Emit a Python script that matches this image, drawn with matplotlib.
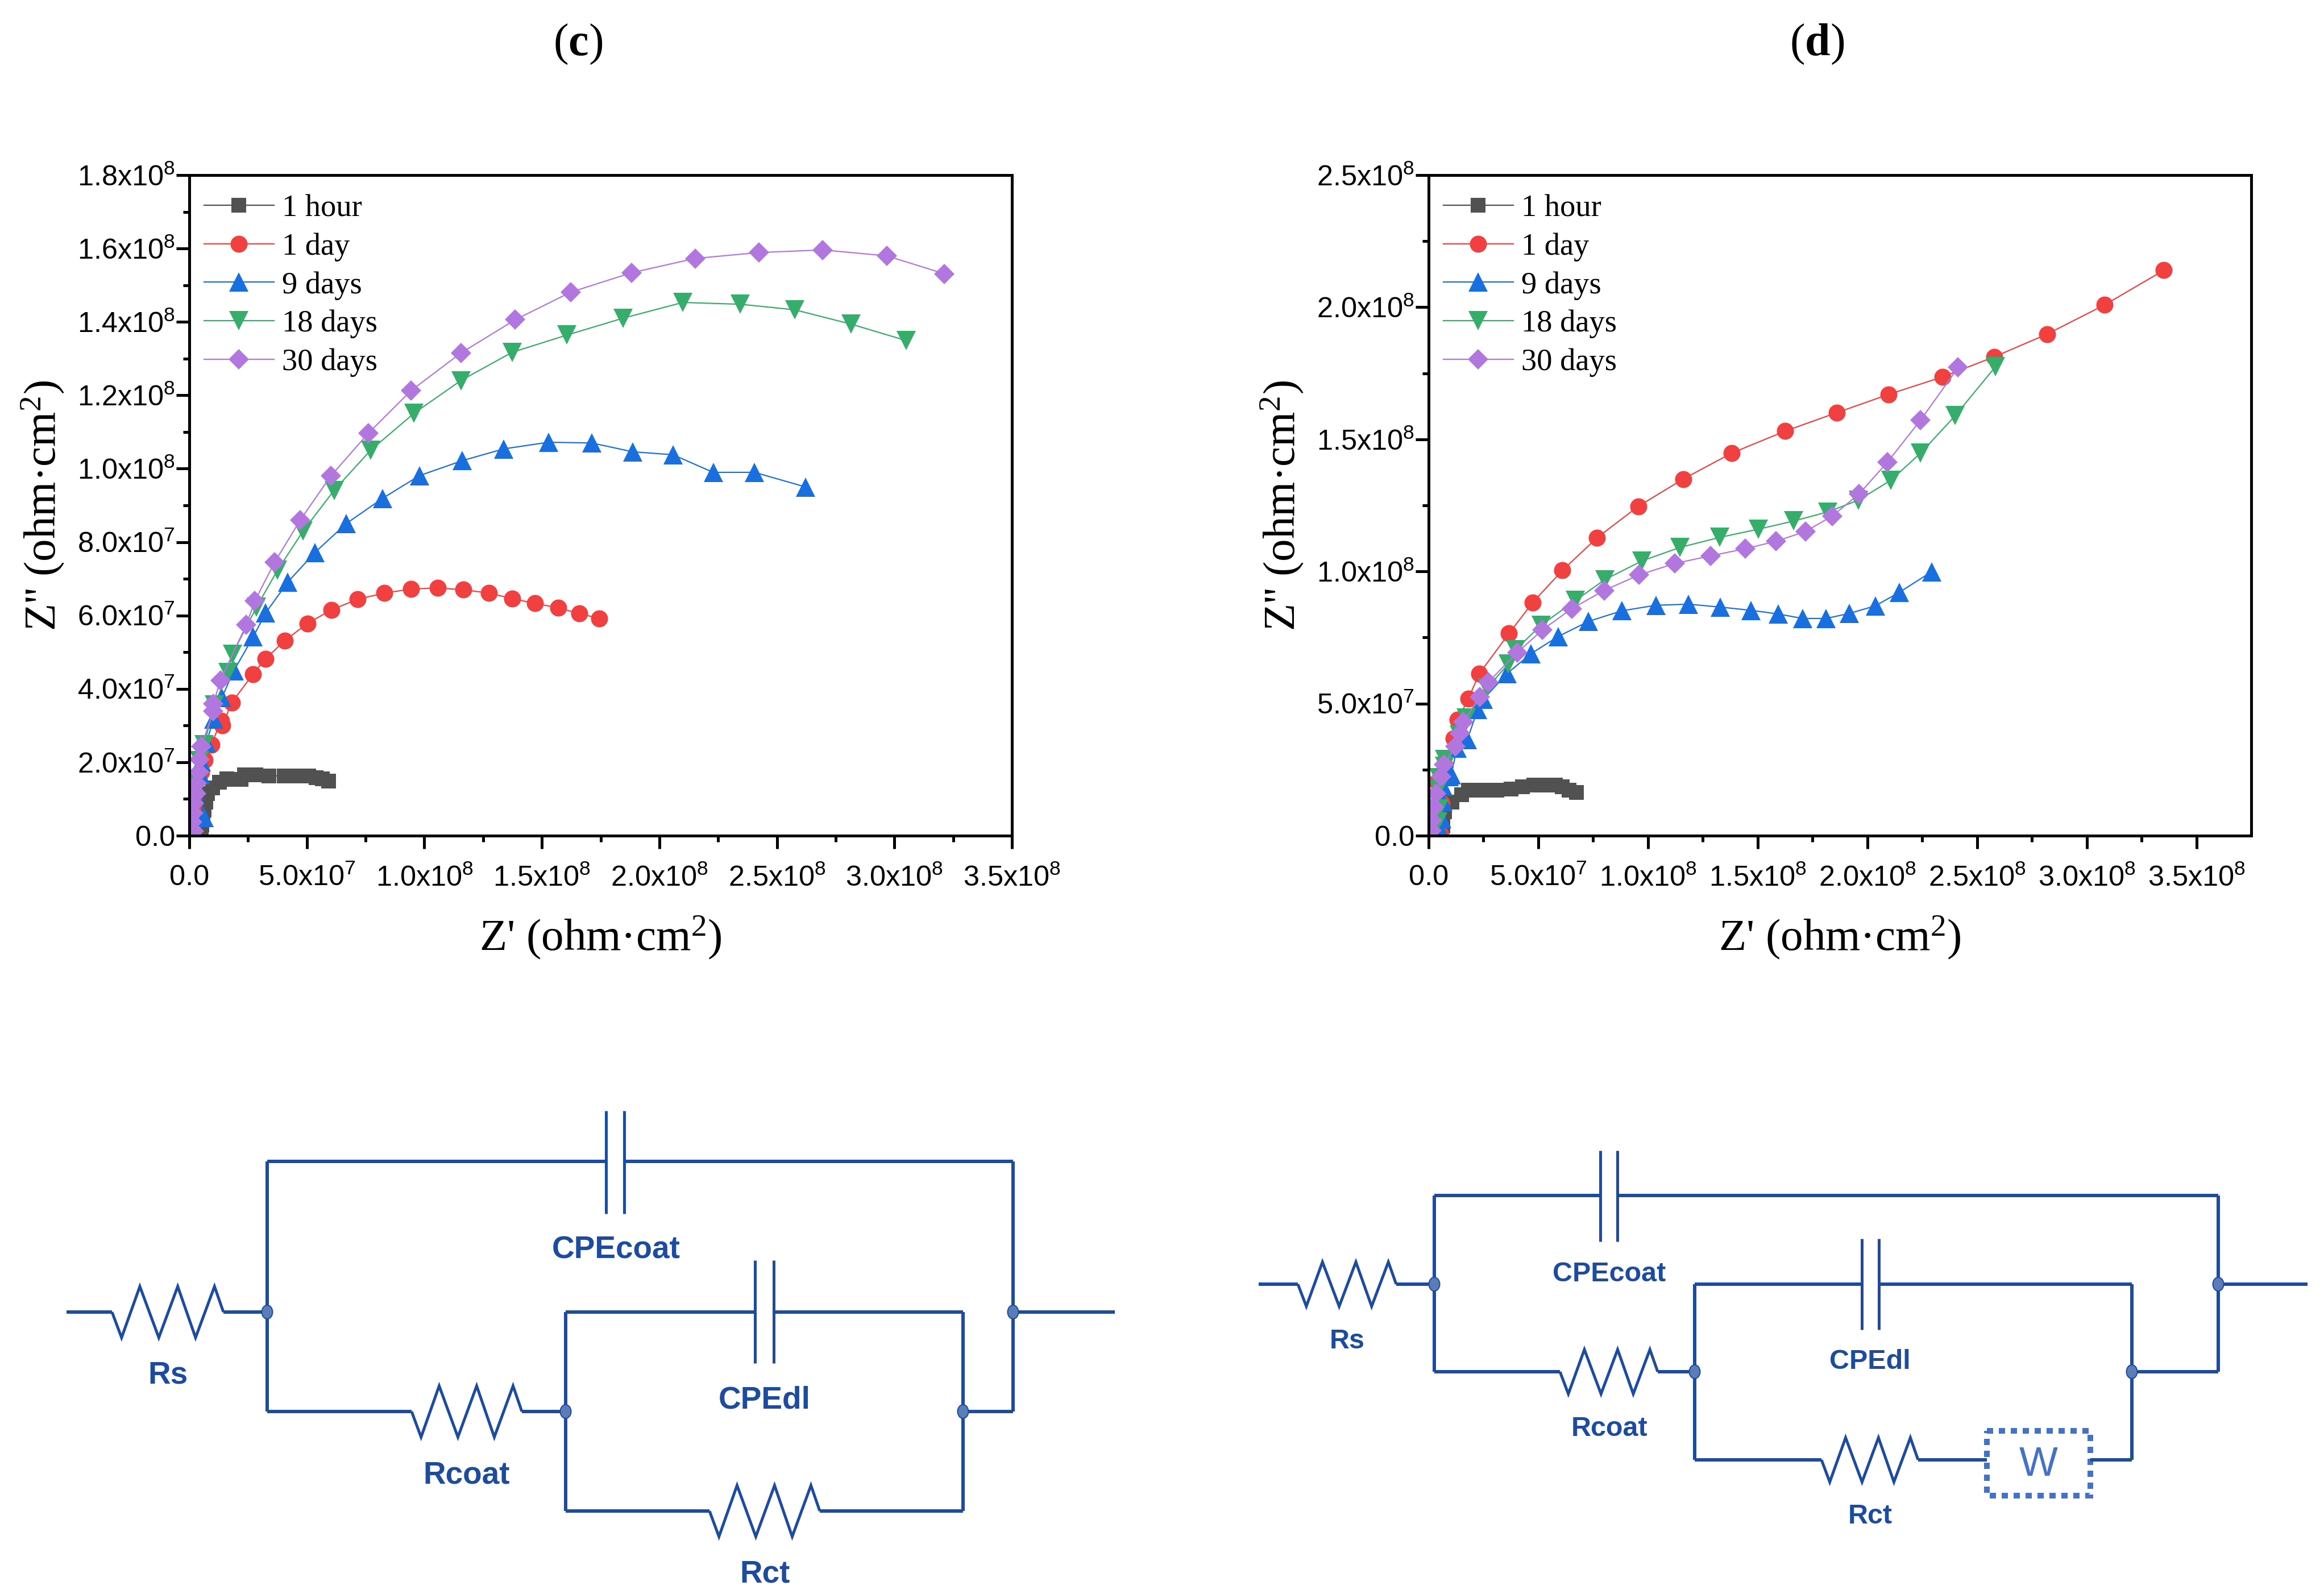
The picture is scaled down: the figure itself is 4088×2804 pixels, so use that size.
import numpy as np
import matplotlib
import matplotlib.pyplot as plt
from matplotlib.patches import Ellipse, Rectangle

matplotlib.use('Agg')

plt.rcParams['mathtext.fontset'] = 'custom'
plt.rcParams['mathtext.bf'] = 'Liberation Serif:bold'
plt.rcParams['mathtext.default'] = 'regular'

W, H = 4088, 2804
DPI = 400
PX = 72 / DPI  # one picture pixel in points

labels = ['1 hour', '1 day', '9 days', '18 days', '30 days']
colors = ['#515151', '#F14040', '#1A6FDF', '#37AD6B', '#B177DE']
markers = ['s', 'o', '^', 'v', 'D']
marker_px = [27, 30, 34, 34, 26]

x_ticks = [0, 5e7, 1e8, 1.5e8, 2e8, 2.5e8, 3e8, 3.5e8]
x_ticklabels = ['0.0', '5.0x10$^{7}$', '1.0x10$^{8}$', '1.5x10$^{8}$', '2.0x10$^{8}$',
                '2.5x10$^{8}$', '3.0x10$^{8}$', '3.5x10$^{8}$']
c_y_ticks = [0, 2e7, 4e7, 6e7, 8e7, 1e8, 1.2e8, 1.4e8, 1.6e8, 1.8e8]
c_y_ticklabels = ['0.0', '2.0x10$^{7}$', '4.0x10$^{7}$', '6.0x10$^{7}$', '8.0x10$^{7}$',
                  '1.0x10$^{8}$', '1.2x10$^{8}$', '1.4x10$^{8}$', '1.6x10$^{8}$', '1.8x10$^{8}$']
d_y_ticks = [0, 5e7, 1e8, 1.5e8, 2e8, 2.5e8]
d_y_ticklabels = ['0.0', '5.0x10$^{7}$', '1.0x10$^{8}$', '1.5x10$^{8}$', '2.0x10$^{8}$', '2.5x10$^{8}$']

# panel c, values in units of 1e7 ohm cm2
c_hour_x = [0.50, 0.54, 0.58, 0.62, 0.71, 0.78, 0.98, 1.29, 1.60, 1.90, 2.20, 2.34, 2.82, 3.39, 4.03, 4.68, 5.08, 5.40, 5.65, 5.93]
c_hour_y = [0.10, 0.30, 0.50, 0.70, 0.91, 1.14, 1.30, 1.45, 1.55, 1.54, 1.53, 1.66, 1.65, 1.63, 1.63, 1.63, 1.63, 1.58, 1.55, 1.49]
c_day_x = [0.15, 0.12, 0.15, 0.18, 0.20, 0.24, 0.52, 0.66, 0.94, 1.35, 1.41, 1.81, 2.71, 3.24, 4.07, 5.02, 6.04, 7.15, 8.29, 9.44, 10.56, 11.67, 12.75, 13.73, 14.70, 15.69, 16.60, 17.45]
c_day_y = [0.06, 0.25, 0.50, 0.80, 1.10, 1.45, 1.73, 2.06, 2.48, 3.13, 3.00, 3.63, 4.40, 4.82, 5.32, 5.78, 6.15, 6.44, 6.61, 6.72, 6.75, 6.70, 6.61, 6.46, 6.33, 6.21, 6.05, 5.92]
c_9d_x = [0.10, 0.62, 0.48, 0.52, 0.73, 1.03, 1.39, 1.90, 2.72, 3.25, 4.19, 5.35, 6.67, 8.22, 9.79, 11.62, 13.38, 15.28, 17.13, 18.87, 20.58, 22.29, 24.05, 26.23]
c_9d_y = [0.10, 0.50, 1.66, 2.02, 2.53, 3.18, 3.77, 4.50, 5.42, 6.07, 6.91, 7.72, 8.50, 9.19, 9.81, 10.22, 10.54, 10.72, 10.70, 10.46, 10.38, 9.90, 9.90, 9.50]
c_18d_x = [0.08, 0.12, 0.16, 0.20, 0.43, 0.63, 1.07, 1.64, 1.83, 2.86, 3.75, 4.84, 6.16, 7.71, 9.56, 11.55, 13.73, 16.06, 18.45, 21.00, 23.45, 25.76, 28.15, 30.51]
c_18d_y = [0.31, 0.62, 1.00, 1.45, 2.04, 2.48, 3.57, 4.44, 4.94, 6.23, 7.23, 8.30, 9.41, 10.50, 11.51, 12.40, 13.17, 13.64, 14.10, 14.53, 14.48, 14.33, 13.94, 13.49]
c_30d_x = [0.20, 0.12, 0.16, 0.20, 0.28, 0.32, 0.40, 0.43, 0.51, 1.02, 1.02, 1.32, 2.43, 2.79, 3.63, 4.72, 6.02, 7.62, 9.44, 11.55, 13.87, 16.23, 18.82, 21.53, 24.24, 26.94, 29.68, 32.13]
c_30d_y = [0.13, 0.37, 0.62, 0.88, 1.14, 1.42, 1.73, 2.07, 2.43, 3.39, 3.59, 4.23, 5.75, 6.40, 7.45, 8.60, 9.80, 10.97, 12.13, 13.15, 14.06, 14.81, 15.34, 15.73, 15.89, 15.96, 15.80, 15.31]

# panel d, same units
d_hour_x = [0.55, 0.60, 0.64, 0.73, 1.07, 1.50, 1.81, 2.45, 3.10, 3.75, 4.27, 4.79, 5.22, 5.78, 6.08, 6.41, 6.75]
d_hour_y = [0.10, 0.20, 0.37, 0.90, 1.26, 1.55, 1.73, 1.73, 1.73, 1.76, 1.84, 1.91, 1.91, 1.91, 1.84, 1.73, 1.64]
d_day_x = [0.55, 0.60, 0.38, 0.73, 1.14, 1.33, 1.81, 2.31, 3.66, 4.75, 6.10, 7.67, 9.55, 11.61, 13.82, 16.25, 18.61, 20.97, 23.42, 25.78, 28.19, 30.82, 33.52]
d_day_y = [0.04, 1.23, 2.05, 2.66, 3.67, 4.38, 5.19, 6.13, 7.65, 8.83, 10.04, 11.27, 12.46, 13.50, 14.48, 15.31, 16.01, 16.70, 17.36, 18.12, 18.98, 20.09, 21.40]
d_9d_x = [0.55, 0.60, 0.64, 0.64, 0.94, 1.03, 1.29, 1.76, 2.24, 2.50, 3.58, 4.67, 5.91, 7.29, 8.81, 10.36, 11.85, 13.30, 14.69, 15.93, 17.05, 18.11, 19.18, 20.37, 21.46, 22.93]
d_9d_y = [0.20, 0.65, 1.30, 1.87, 2.23, 2.30, 3.31, 3.63, 4.78, 5.17, 6.14, 6.89, 7.54, 8.11, 8.51, 8.72, 8.76, 8.65, 8.53, 8.39, 8.22, 8.22, 8.41, 8.70, 9.21, 9.99]
d_18d_x = [0.42, 0.47, 0.44, 0.47, 0.73, 0.73, 1.40, 1.72, 2.67, 3.64, 3.97, 5.13, 6.69, 8.03, 9.73, 11.46, 13.28, 15.04, 16.65, 18.19, 19.60, 21.07, 22.43, 24.00, 25.83]
d_18d_y = [0.51, 1.01, 1.76, 2.20, 2.63, 2.88, 3.81, 4.45, 5.60, 6.50, 7.04, 7.97, 8.90, 9.69, 10.40, 10.91, 11.29, 11.60, 11.91, 12.25, 12.70, 13.45, 14.48, 15.89, 17.74]
d_30d_x = [0.12, 0.16, 0.25, 0.34, 0.58, 0.71, 1.23, 1.43, 1.59, 2.32, 2.71, 4.04, 5.19, 6.52, 8.00, 9.60, 11.22, 12.85, 14.44, 15.83, 17.17, 18.41, 19.63, 20.92, 22.43, 24.14]
d_30d_y = [0.19, 0.58, 1.08, 1.59, 2.23, 2.70, 3.38, 3.88, 4.31, 5.24, 5.80, 6.93, 7.79, 8.59, 9.28, 9.87, 10.30, 10.59, 10.86, 11.14, 11.51, 12.10, 12.94, 14.14, 15.73, 17.72]

c_series = [(c_hour_x, c_hour_y), (c_day_x, c_day_y), (c_9d_x, c_9d_y), (c_18d_x, c_18d_y), (c_30d_x, c_30d_y)]
d_series = [(d_hour_x, d_hour_y), (d_day_x, d_day_y), (d_9d_x, d_9d_y), (d_18d_x, d_18d_y), (d_30d_x, d_30d_y)]

fig = plt.figure(figsize=(W / DPI, H / DPI), dpi=DPI, facecolor='white')


def pixel_axes(left, right, top, bottom):
    return fig.add_axes([left / W, 1 - bottom / H, (right - left) / W, (bottom - top) / H])


def plot_nyquist(ax, series, xlim, ylim, y_ticks, y_ticklabels):
    for (x, y), c, m, ms, lab in zip(series, colors, markers, marker_px, labels):
        ax.plot(np.array(x) * 1e7, np.array(y) * 1e7, color=c, marker=m, ms=ms * PX, mew=0,
                lw=2.2 * PX, label=lab)
    ax.set_xlim(*xlim)
    ax.set_ylim(*ylim)
    ax.set_xticks(x_ticks, labels=x_ticklabels, family='Liberation Sans', fontsize=50.5 * PX)
    ax.set_yticks(y_ticks, labels=y_ticklabels, family='Liberation Sans', fontsize=50.5 * PX)
    ax.set_xticks(np.arange(2.5e7, xlim[1], 5e7), minor=True)
    ax.set_yticks(np.array(y_ticks[:-1]) + y_ticks[1] / 2, minor=True)
    ax.tick_params(axis='x', which='major', length=23 * PX, width=5 * PX, pad=28 * PX)
    ax.tick_params(axis='y', which='major', length=23 * PX, width=5 * PX, pad=2 * PX)
    ax.tick_params(which='minor', length=11 * PX, width=5 * PX)
    for sp in ax.spines.values():
        sp.set_linewidth(5 * PX)
    ax.set_xlabel("Z' (ohm·cm$^{2}$)", family='Liberation Serif', fontsize=79 * PX, labelpad=40 * PX)
    ax.set_ylabel("Z'' (ohm·cm$^{2}$)", family='Liberation Serif', fontsize=79 * PX, labelpad=19 * PX)
    ax.legend(loc='upper left', bbox_to_anchor=(0.018, 0.971), frameon=False, borderpad=0, borderaxespad=0,
              handlelength=2.25, handletextpad=0.26, labelspacing=0.315,
              prop={'family': 'Liberation Serif', 'size': 54.6 * PX})


ax_c = pixel_axes(333, 1780, 308, 1470)
plot_nyquist(ax_c, c_series, (0, 3.5e8), (0, 1.8e8), c_y_ticks, c_y_ticklabels)
ax_d = pixel_axes(2513, 3960, 308, 1470)
plot_nyquist(ax_d, d_series, (0, 3.75e8), (0, 2.5e8), d_y_ticks, d_y_ticklabels)

fig.text(1017 / W, 1 - 78 / H, '($\\mathbf{c}$)', family='Liberation Serif', fontsize=80 * PX, ha='center', va='center')
fig.text(3196 / W, 1 - 78 / H, '($\\mathbf{d}$)', family='Liberation Serif', fontsize=80 * PX, ha='center', va='center')

# equivalent circuits, drawn on an overlay in picture pixels
ov = fig.add_axes([0, 0, 1, 1])
ov.set_xlim(0, W)
ov.set_ylim(H, 0)
ov.axis('off')
ov.patch.set_alpha(0)

WIRE = '#1D4C9E'
NODE = '#5A7DB8'
zig_dx = np.array([0, 8.6, 25, 42, 59, 75, 92, 100]) / 100
zig_dy = np.array([0, 1, -1, 1, -1, 1, -1, 0])


def wire(xs, ys, lw=6):
    ov.plot(xs, ys, color=WIRE, lw=lw * PX, solid_capstyle='butt', solid_joinstyle='miter')


def resistor(x0, x1, y, amp):
    wire(x0 + zig_dx * (x1 - x0), y + zig_dy * amp, lw=5)


def capacitor(x0, x1, y0, y1):
    wire([x0, x0], [y0, y1], lw=5)
    wire([x1, x1], [y0, y1], lw=5)


def node(x, y):
    ov.add_patch(Ellipse((x, y), 19, 24, fc=NODE, ec=WIRE, lw=2 * PX, zorder=3))


def circuit_label(x, y, s, size):
    ov.text(x, y + 6, s, color=WIRE, family='Liberation Sans', weight='bold', fontsize=size * PX, ha='center', va='center')


# circuit for panel c
wire([117, 197], [2308, 2308])
resistor(197, 393, 2308, 45)
wire([393, 470], [2308, 2308])
wire([470, 1066], [2043, 2043])
wire([1098, 1782], [2043, 2043])
wire([470, 470], [2043, 2483])
wire([1782, 1782], [2043, 2483])
wire([1782, 1961], [2308, 2308])
capacitor(1066, 1098, 1954, 2135)
wire([470, 724], [2483, 2483])
resistor(724, 918, 2483, 45)
wire([918, 995], [2483, 2483])
wire([995, 995], [2308, 2658])
wire([995, 1328], [2308, 2308])
capacitor(1328, 1361, 2217, 2398)
wire([1361, 1694], [2308, 2308])
wire([1694, 1694], [2308, 2658])
wire([1694, 1782], [2483, 2483])
wire([995, 1248], [2658, 2658])
resistor(1248, 1442, 2658, 45)
wire([1442, 1694], [2658, 2658])
for nx_, ny_ in [(470, 2308), (1782, 2308), (995, 2483), (1694, 2483)]:
    node(nx_, ny_)
circuit_label(1084, 2193, 'CPEcoat', 55)
circuit_label(295, 2414, 'Rs', 55)
circuit_label(821, 2589, 'Rcoat', 55)
circuit_label(1345, 2457, 'CPEdl', 55)
circuit_label(1346, 2764, 'Rct', 55)

# circuit for panel d
wire([2214, 2283], [2259, 2259])
resistor(2283, 2456, 2259, 39)
wire([2456, 2523], [2259, 2259])
wire([2523, 2815], [2103, 2103])
wire([2845, 3902], [2103, 2103])
wire([2523, 2523], [2103, 2413])
wire([3902, 3902], [2103, 2413])
wire([3902, 4059], [2259, 2259])
capacitor(2815, 2845, 2024, 2184)
wire([2523, 2744], [2413, 2413])
resistor(2744, 2916, 2413, 39)
wire([2916, 2981], [2413, 2413])
wire([2981, 2981], [2259, 2568])
wire([2981, 3275], [2259, 2259])
capacitor(3275, 3305, 2179, 2339)
wire([3305, 3750], [2259, 2259])
wire([3750, 3750], [2259, 2568])
wire([3750, 3902], [2413, 2413])
wire([2981, 3204], [2568, 2568])
resistor(3204, 3374, 2568, 39)
wire([3374, 3495], [2568, 2568])
wire([3677, 3750], [2568, 2568])
ov.add_patch(Rectangle((3495, 2517), 182, 114, fc='none', ec='#4472C4', lw=10 * PX, ls=(0, (1.1, 1))))
ov.text(3586, 2578, 'W', color='#4472C4', family='Liberation Sans', fontsize=72 * PX, ha='center', va='center')
for nx_, ny_ in [(2523, 2259), (3902, 2259), (2981, 2413), (3750, 2413)]:
    node(nx_, ny_)
circuit_label(2831, 2236, 'CPEcoat', 48.6)
circuit_label(2370, 2353, 'Rs', 48.6)
circuit_label(2831, 2507, 'Rcoat', 48.6)
circuit_label(3289, 2390, 'CPEdl', 48.6)
circuit_label(3290, 2662, 'Rct', 48.6)

fig.savefig('out.png', dpi=DPI)
